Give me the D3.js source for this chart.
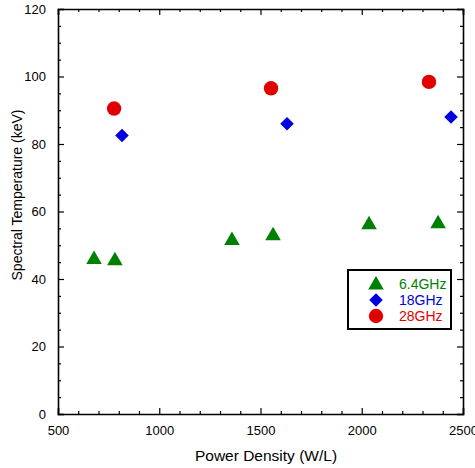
<!DOCTYPE html>
<html lang="en">
<head>
    <meta charset="UTF-8">
    <title>Spectral Temperature vs Power Density</title>
    <script src="https://d3js.org/d3.v7.min.js"></script>
    <style>
        body { margin: 0; background: #fff; font-family: "Liberation Sans", Arial, sans-serif; }
        svg { display: block; }
        .tick text { font-size: 13px; fill: #000; font-family: "Liberation Sans", Arial, sans-serif; }
        .axis-label { fill: #000; }
        .legend-text { font-size: 14px; }
    </style>
</head>
<body>
    <svg id="chart"></svg>
    <script>
        // series data
        const seriesNames = ["6.4GHz", "18GHz", "28GHz"];
        const seriesColors = ["#008000", "#0000e0", "#e00000"];
        const x64 = [678, 781, 1359, 1562, 2036, 2377];
        const y64 = [45.8, 45.4, 51.4, 52.8, 56.1, 56.4];
        const x18 = [816, 1631, 2441];
        const y18 = [82.5, 86, 88];
        const x28 = [777, 1552, 2332];
        const y28 = [90.5, 96.5, 98.4];
        const xTicks = [500, 1000, 1500, 2000, 2500];
        const yTicks = [0, 20, 40, 60, 80, 100, 120];

        const width = 475, height = 468;
        const margin = { left: 58, right: 12, top: 9, bottom: 54 };
        const svg = d3.select("#chart").attr("width", width).attr("height", height);

        const x = d3.scaleLinear().domain([500, 2500]).range([margin.left, width - margin.right]);
        const y = d3.scaleLinear().domain([0, 120]).range([height - margin.bottom, margin.top]);
        const x0 = margin.left, x1 = width - margin.right;
        const y0 = height - margin.bottom, y1 = margin.top;

        // minor ticks every 100 on x, every 5 on y
        const xMinor = d3.range(500, 2501, 100).filter(v => v % 500 !== 0);
        const yMinor = d3.range(0, 121, 5).filter(v => v % 20 !== 0);

        // frame side: major ticks (inward), minor ticks, optional labels
        function axisSet(gen, tr, ticks, minor, withLabels) {
            const g = svg.append("g").attr("transform", tr)
                .call(gen.tickValues(ticks).tickSize(-6).tickPadding(withLabels ? 12 : 0)
                    .tickFormat(withLabels ? d3.format("d") : ""));
            g.select(".domain").attr("stroke", "#000").attr("stroke-width", 1.6);
            g.selectAll(".tick line").attr("stroke", "#000").attr("stroke-width", 1.2);
            const gm = svg.append("g").attr("transform", tr)
                .call(gen.tickValues(minor).tickSize(-3).tickFormat(""));
            gm.select(".domain").remove();
            gm.selectAll(".tick line").attr("stroke", "#000").attr("stroke-width", 1.2);
        }

        axisSet(d3.axisBottom(x), `translate(0,${y0})`, xTicks, xMinor, true);
        axisSet(d3.axisTop(x), `translate(0,${y1})`, xTicks, xMinor, false);
        axisSet(d3.axisLeft(y), `translate(${x0},0)`, yTicks, yMinor, true);
        axisSet(d3.axisRight(y), `translate(${x1},0)`, yTicks, yMinor, false);

        // axis titles
        svg.append("text").attr("class", "axis-label")
            .attr("x", 266).attr("y", 461).style("font-size", "15.5px")
            .attr("text-anchor", "middle").text("Power Density (W/L)");
        svg.append("text").attr("class", "axis-label")
            .attr("transform", "translate(22,195) rotate(-90)").style("font-size", "14px")
            .attr("text-anchor", "middle").text("Spectral Temperature (keV)");

        const tri = d3.symbol().type(d3.symbolTriangle).size(105);
        const sq = d3.symbol().type(d3.symbolSquare).size(92);

        svg.append("g").selectAll("path").data(d3.zip(x64, y64)).join("path")
            .attr("d", tri).attr("fill", seriesColors[0])
            .attr("transform", d => `translate(${x(d[0])},${y(d[1])})`);
        svg.append("g").selectAll("path").data(d3.zip(x18, y18)).join("path")
            .attr("d", sq).attr("fill", seriesColors[1])
            .attr("transform", d => `translate(${x(d[0])},${y(d[1])}) rotate(45)`);
        svg.append("g").selectAll("circle").data(d3.zip(x28, y28)).join("circle")
            .attr("cx", d => x(d[0])).attr("cy", d => y(d[1])).attr("r", 7.2)
            .attr("fill", seriesColors[2]);

        // legend
        const lg = svg.append("g").attr("transform", "translate(348,270)");
        lg.append("rect").attr("width", 103).attr("height", 59)
            .attr("fill", "#fff").attr("stroke", "#000").attr("stroke-width", 2);
        seriesNames.forEach((name, i) => {
            const cy = 14 + i * 16;
            if (i === 0) lg.append("path").attr("d", tri).attr("fill", seriesColors[i]).attr("transform", `translate(28,${cy + 1})`);
            if (i === 1) lg.append("path").attr("d", sq).attr("fill", seriesColors[i]).attr("transform", `translate(28,${cy}) rotate(45)`);
            if (i === 2) lg.append("circle").attr("cx", 28).attr("cy", cy).attr("r", 7.2).attr("fill", seriesColors[i]);
            lg.append("text").attr("class", "legend-text").attr("x", 51).attr("y", cy + 5)
                .attr("fill", seriesColors[i]).text(name);
        });
    </script>
</body>
</html>
